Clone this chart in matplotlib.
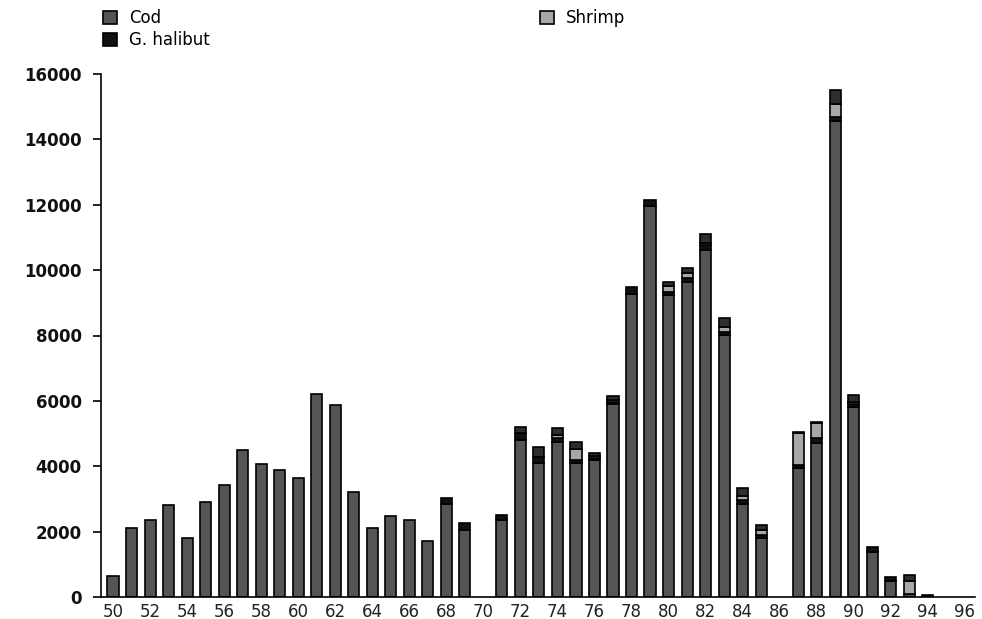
import matplotlib
matplotlib.use("Agg")
import matplotlib.pyplot as plt
from matplotlib.patches import Patch
import numpy as np

years = list(range(50, 97))
cod = [650, 2100, 2370, 2800, 1820, 2920, 3420, 4500, 4080, 3900,
       3650, 6220, 5860, 3220, 2120, 2480, 2370, 1700, 2850, 2050,
       0, 2350, 4800, 4090, 4750, 4090, 4200, 5900, 9270, 11960,
       9230, 9650, 10630, 8010, 2850, 1800, 0, 3940, 4720, 14560,
       5800, 1390, 490, 100, 0, 0, 0]
halibut = [0] * 18 + [170, 220,
           0, 150, 230, 200, 120, 100, 60, 80, 210, 180,
           100, 100, 130, 100, 120, 100, 0, 100, 130, 120,
           100, 150, 110, 0, 50, 0, 0]
shrimp = [0] * 24 + [100, 330, 60, 60, 0, 0,
          180, 150, 80, 140, 120, 150, 0, 970, 460, 400,
          60, 0, 0, 400, 0, 0, 0]
other = [0] * 22 + [180, 300, 190, 210, 80, 100, 0, 0,
         130, 170, 280, 290, 230, 150, 0, 50, 50, 420,
         210, 0, 0, 170, 0, 0, 0]
xtick_labels = [str(y) for y in range(50, 97, 2)]

COD_C, HAL_C, SHR_C, OTH_C = '#555555', '#111111', '#a8a8a8', '#2e2e2e'

plt.rcParams['font.family'] = ['DejaVu Sans']

fig = plt.figure(figsize=(9.82, 6.19), dpi=100)
ax = fig.add_axes([101/982, 1 - 597/619, (975 - 101)/982, (597 - 74)/619])

x = np.array(years)
cod_a = np.array(cod)
hal_a = np.array(halibut)
shr_a = np.array(shrimp)
oth_a = np.array(other)
w = 0.6
ek = dict(edgecolor='black', linewidth=1.2)
b1 = ax.bar(x, cod_a, w, color=COD_C, **ek)
b2 = ax.bar(x, hal_a, w, bottom=cod_a, color=HAL_C, **ek)
b3 = ax.bar(x, shr_a, w, bottom=cod_a + hal_a, color=SHR_C, **ek)
b4 = ax.bar(x, oth_a, w, bottom=cod_a + hal_a + shr_a, color=OTH_C, **ek)
for bars, vals in ((b1, cod_a), (b2, hal_a), (b3, shr_a), (b4, oth_a)):
    for r, v in zip(bars, vals):
        if v == 0:
            r.set_visible(False)

ax.set_xlim(49.35, 96.55)
ax.set_ylim(0, 16000)
ax.set_xticks(range(50, 97, 2))
ax.set_xticklabels(xtick_labels, fontsize=12, color='#222222')
ax.set_yticks(range(0, 16001, 2000))
ax.set_yticklabels([str(v) for v in range(0, 16001, 2000)], fontsize=12,
                   fontweight='bold', color='#111111')
ax.tick_params(axis='x', length=0, pad=4)
ax.tick_params(axis='y', length=6, width=1.2, direction='out', pad=8)
for s in ('top', 'right'):
    ax.spines[s].set_visible(False)
for s in ('left', 'bottom'):
    ax.spines[s].set_linewidth(1.2)

handles = [Patch(facecolor=COD_C, edgecolor='black', linewidth=1.2),
           Patch(facecolor=HAL_C, edgecolor='black', linewidth=1.2),
           Patch(facecolor=SHR_C, edgecolor='black', linewidth=1.2)]
fig.legend(handles=handles, labels=['Cod', 'G. halibut', 'Shrimp'],
           loc='upper left', bbox_to_anchor=(98/982, 1 - 4/619), ncol=2,
           frameon=False, fontsize=12, handlelength=0.85, handleheight=0.85,
           handletextpad=0.7, labelspacing=0.25, columnspacing=19.8,
           borderaxespad=0, borderpad=0.3)

fig.savefig('out.png', dpi=100)
